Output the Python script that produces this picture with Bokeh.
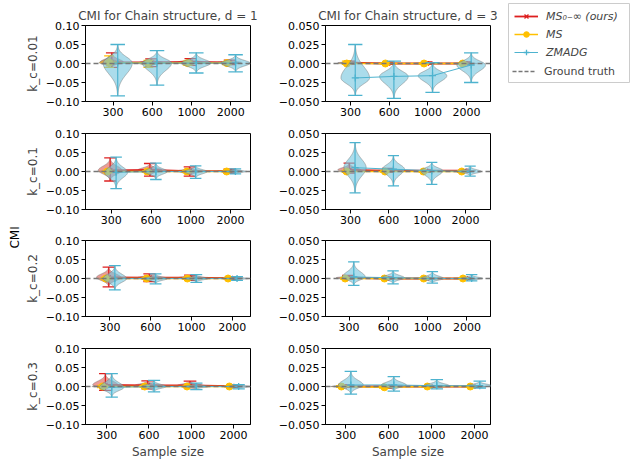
import numpy as np
from bokeh.plotting import figure
from bokeh.models import Range1d, FixedTicker, Span, Legend, LegendItem, ColumnDataSource, Label
from bokeh.layouts import row, column
from bokeh.embed import file_html
from bokeh.resources import INLINE

# ---------------- data ----------------
sample_sizes = ["300", "600", "1000", "2000"]
kc_labels = ["0.01", "0.1", "0.2", "0.3"]
d_labels = ["1", "3"]
method_names = ["MS₀₋∞ (ours)", "MS", "ZMADG"]
ground_truth_name = "Ground truth"
ground_truth_cmi = 0.0

y_ticks_d1 = [-0.10, -0.05, 0.0, 0.05, 0.10]
y_tick_labels_d1 = ["−0.10", "−0.05", "0.00", "0.05", "0.10"]
y_ticks_d3 = [-0.050, -0.025, 0.0, 0.025, 0.050]
y_tick_labels_d3 = ["−0.050", "−0.025", "0.000", "0.025", "0.050"]

# d=1, k_c=0.01
d1_k001_ours_mean = [0.003, 0.003, 0.004, 0.003]
d1_k001_ours_min = [-0.010, -0.008, -0.005, -0.003]
d1_k001_ours_max = [0.028, 0.012, 0.013, 0.009]
d1_k001_ms_mean = [0.002, 0.001, 0.001, 0.001]
d1_k001_ms_min = [-0.010, -0.010, -0.004, -0.003]
d1_k001_ms_max = [0.020, 0.008, 0.006, 0.004]
d1_k001_zmadg_mean = [0.001, 0.001, 0.001, 0.001]
d1_k001_zmadg_min = [-0.085, -0.057, -0.025, -0.022]
d1_k001_zmadg_max = [0.050, 0.034, 0.028, 0.023]

# d=3, k_c=0.01
d3_k001_ours_mean = [0.001, 0.000, 0.000, 0.000]
d3_k001_ours_min = [-0.001, -0.001, -0.001, -0.001]
d3_k001_ours_max = [0.003, 0.002, 0.002, 0.002]
d3_k001_ms_mean = [0.000, 0.000, 0.000, 0.000]
d3_k001_ms_min = [-0.001, -0.001, -0.001, -0.001]
d3_k001_ms_max = [0.003, 0.001, 0.001, 0.001]
d3_k001_zmadg_mean = [-0.019, -0.017, -0.016, -0.002]
d3_k001_zmadg_min = [-0.042, -0.046, -0.038, -0.025]
d3_k001_zmadg_max = [0.025, 0.003, 0.001, 0.014]

# d=1, k_c=0.1
d1_k01_ours_mean = [0.003, 0.004, 0.001, 0.001]
d1_k01_ours_min = [-0.025, -0.012, -0.012, -0.004]
d1_k01_ours_max = [0.036, 0.021, 0.012, 0.006]
d1_k01_ms_mean = [0.000, 0.000, 0.000, 0.000]
d1_k01_ms_min = [-0.003, -0.002, -0.002, -0.001]
d1_k01_ms_max = [0.003, 0.002, 0.002, 0.001]
d1_k01_zmadg_mean = [-0.002, 0.000, 0.000, 0.000]
d1_k01_zmadg_min = [-0.045, -0.021, -0.018, -0.006]
d1_k01_zmadg_max = [0.038, 0.022, 0.015, 0.007]

# d=3, k_c=0.1
d3_k01_ours_mean = [0.002, 0.001, 0.001, 0.001]
d3_k01_ours_min = [-0.002, -0.001, -0.001, -0.001]
d3_k01_ours_max = [0.011, 0.004, 0.002, 0.002]
d3_k01_ms_mean = [0.000, 0.000, 0.000, 0.000]
d3_k01_ms_min = [-0.001, -0.001, -0.001, -0.001]
d3_k01_ms_max = [0.001, 0.001, 0.001, 0.001]
d3_k01_zmadg_mean = [0.005, 0.003, 0.001, 0.000]
d3_k01_zmadg_min = [-0.028, -0.019, -0.017, -0.006]
d3_k01_zmadg_max = [0.038, 0.021, 0.012, 0.007]

# d=1, k_c=0.2
d1_k02_ours_mean = [0.003, 0.002, 0.002, 0.001]
d1_k02_ours_min = [-0.022, -0.008, -0.005, -0.003]
d1_k02_ours_max = [0.030, 0.012, 0.009, 0.004]
d1_k02_ms_mean = [0.000, 0.000, 0.000, 0.000]
d1_k02_ms_min = [-0.003, -0.002, -0.002, -0.001]
d1_k02_ms_max = [0.003, 0.002, 0.002, 0.001]
d1_k02_zmadg_mean = [0.000, 0.000, 0.000, 0.000]
d1_k02_zmadg_min = [-0.030, -0.014, -0.010, -0.005]
d1_k02_zmadg_max = [0.034, 0.012, 0.010, 0.005]

# d=3, k_c=0.2
d3_k02_ours_mean = [0.001, 0.000, 0.000, 0.000]
d3_k02_ours_min = [-0.001, -0.001, -0.001, -0.001]
d3_k02_ours_max = [0.004, 0.002, 0.001, 0.001]
d3_k02_ms_mean = [0.000, 0.000, 0.000, 0.000]
d3_k02_ms_min = [-0.001, -0.001, -0.001, -0.001]
d3_k02_ms_max = [0.001, 0.001, 0.001, 0.001]
d3_k02_zmadg_mean = [0.002, 0.001, 0.000, 0.000]
d3_k02_zmadg_min = [-0.009, -0.007, -0.006, -0.003]
d3_k02_zmadg_max = [0.022, 0.010, 0.009, 0.005]

# d=1, k_c=0.3
d1_k03_ours_mean = [0.004, 0.003, 0.003, 0.001]
d1_k03_ours_min = [-0.010, -0.006, -0.003, -0.002]
d1_k03_ours_max = [0.034, 0.015, 0.014, 0.004]
d1_k03_ms_mean = [0.000, 0.000, 0.000, 0.000]
d1_k03_ms_min = [-0.003, -0.002, -0.001, -0.001]
d1_k03_ms_max = [0.003, 0.002, 0.001, 0.001]
d1_k03_zmadg_mean = [-0.002, 0.000, 0.000, 0.000]
d1_k03_zmadg_min = [-0.028, -0.014, -0.008, -0.006]
d1_k03_zmadg_max = [0.034, 0.016, 0.009, 0.005]

# d=3, k_c=0.3
d3_k03_ours_mean = [0.000, 0.000, 0.000, 0.000]
d3_k03_ours_min = [-0.001, -0.002, -0.001, -0.001]
d3_k03_ours_max = [0.002, 0.001, 0.001, 0.001]
d3_k03_ms_mean = [0.000, -0.001, 0.000, 0.000]
d3_k03_ms_min = [-0.001, -0.002, -0.001, -0.001]
d3_k03_ms_max = [0.001, 0.000, 0.001, 0.001]
d3_k03_zmadg_mean = [0.002, 0.002, 0.001, 0.001]
d3_k03_zmadg_min = [-0.010, -0.006, -0.003, -0.002]
d3_k03_zmadg_max = [0.020, 0.013, 0.009, 0.007]


def stats(mean, lo, hi):
    return dict(mean=mean, lo=lo, hi=hi)


panel_data = {
    (0, 0): dict(ours=stats(d1_k001_ours_mean, d1_k001_ours_min, d1_k001_ours_max),
                 ms=stats(d1_k001_ms_mean, d1_k001_ms_min, d1_k001_ms_max),
                 zmadg=stats(d1_k001_zmadg_mean, d1_k001_zmadg_min, d1_k001_zmadg_max)),
    (0, 1): dict(ours=stats(d3_k001_ours_mean, d3_k001_ours_min, d3_k001_ours_max),
                 ms=stats(d3_k001_ms_mean, d3_k001_ms_min, d3_k001_ms_max),
                 zmadg=stats(d3_k001_zmadg_mean, d3_k001_zmadg_min, d3_k001_zmadg_max)),
    (1, 0): dict(ours=stats(d1_k01_ours_mean, d1_k01_ours_min, d1_k01_ours_max),
                 ms=stats(d1_k01_ms_mean, d1_k01_ms_min, d1_k01_ms_max),
                 zmadg=stats(d1_k01_zmadg_mean, d1_k01_zmadg_min, d1_k01_zmadg_max)),
    (1, 1): dict(ours=stats(d3_k01_ours_mean, d3_k01_ours_min, d3_k01_ours_max),
                 ms=stats(d3_k01_ms_mean, d3_k01_ms_min, d3_k01_ms_max),
                 zmadg=stats(d3_k01_zmadg_mean, d3_k01_zmadg_min, d3_k01_zmadg_max)),
    (2, 0): dict(ours=stats(d1_k02_ours_mean, d1_k02_ours_min, d1_k02_ours_max),
                 ms=stats(d1_k02_ms_mean, d1_k02_ms_min, d1_k02_ms_max),
                 zmadg=stats(d1_k02_zmadg_mean, d1_k02_zmadg_min, d1_k02_zmadg_max)),
    (2, 1): dict(ours=stats(d3_k02_ours_mean, d3_k02_ours_min, d3_k02_ours_max),
                 ms=stats(d3_k02_ms_mean, d3_k02_ms_min, d3_k02_ms_max),
                 zmadg=stats(d3_k02_zmadg_mean, d3_k02_zmadg_min, d3_k02_zmadg_max)),
    (3, 0): dict(ours=stats(d1_k03_ours_mean, d1_k03_ours_min, d1_k03_ours_max),
                 ms=stats(d1_k03_ms_mean, d1_k03_ms_min, d1_k03_ms_max),
                 zmadg=stats(d1_k03_zmadg_mean, d1_k03_zmadg_min, d1_k03_zmadg_max)),
    (3, 1): dict(ours=stats(d3_k03_ours_mean, d3_k03_ours_min, d3_k03_ours_max),
                 ms=stats(d3_k03_ms_mean, d3_k03_ms_min, d3_k03_ms_max),
                 zmadg=stats(d3_k03_zmadg_mean, d3_k03_zmadg_min, d3_k03_zmadg_max)),
}

# ---------------- styles / layout ----------------
FONT = "DejaVu Sans"
method_keys = ["ours", "ms", "zmadg"]
method_style = {
    "ours": dict(line="#DD1F1F", fill="#E05A4F", offset=-0.03, width=0.6,
                 marker="x", msize=6, lw=1.8),
    "ms": dict(line="#FFC000", fill="#F1B507", offset=-0.10, width=0.5,
               marker="circle", msize=7, lw=1.5),
    "zmadg": dict(line="#4DB3CF", fill="#73C5DE", offset=0.12, width=0.58,
                  marker="cross", msize=7, lw=1.0),
}
zmadg_width_row0 = 0.74

row_border_top = [25, 9, 8, 8]
row_border_bottom = [23, 23, 24, 37]
frame_h = 76
x_ranges = {
    0: [(0.3, 4.5), (0.35, 4.5), (0.4, 4.45), (0.5, 4.4)],
    1: [(0.35, 4.62), (0.35, 4.65), (0.4, 4.6), (0.53, 4.37)],
}


def violin_patch(pos, lo, hi, c, width):
    c = min(max(c, lo), hi)
    ys = np.linspace(lo, hi, 81)
    s_up = max(hi - c, 1e-9) / 3.0
    s_dn = max(c - lo, 1e-9) / 3.0
    s = np.where(ys >= c, s_up, s_dn)
    half = 0.5 * width * np.exp(-0.5 * ((ys - c) / s) ** 2)
    xs = np.concatenate([pos - half, (pos + half)[::-1]])
    yy = np.concatenate([ys, ys[::-1]])
    return xs.tolist(), yy.tolist()


def make_panel(r, c):
    data = panel_data[(r, c)]
    is_left = c == 0
    first = r == 0
    last = r == 3
    top = row_border_top[r]
    bottom = row_border_bottom[r]
    height = top + frame_h + bottom
    width = 236 if is_left else 244
    yt = y_ticks_d1 if is_left else y_ticks_d3
    yl = y_tick_labels_d1 if is_left else y_tick_labels_d3
    xr = x_ranges[c][r]
    p = figure(width=width, height=height,
               x_range=Range1d(*xr), y_range=Range1d(yt[0], yt[-1]),
               output_backend="svg", toolbar_location=None,
               min_border_left=60 if is_left else 67,
               min_border_right=8 if is_left else 12,
               min_border_top=top, min_border_bottom=bottom,
               title=(f"CMI for Chain structure, d = {d_labels[c]}" if first else None))
    p.background_fill_color = "white"
    p.border_fill_color = "white"
    p.outline_line_color = "black"
    p.outline_line_width = 1
    p.xgrid.visible = False
    p.ygrid.visible = False
    if first:
        p.title.align = "center"
        p.title.text_font = FONT
        p.title.text_font_size = "12px"
        p.title.text_font_style = "normal"
        p.title.standoff = 6

    idx = np.arange(1, len(sample_sizes) + 1, dtype=float)
    p.xaxis.ticker = FixedTicker(ticks=idx.tolist())
    p.xaxis.major_label_overrides = {float(i): s for i, s in zip(idx, sample_sizes)}
    p.yaxis.ticker = FixedTicker(ticks=yt)
    p.yaxis.major_label_overrides = {float(t): s for t, s in zip(yt, yl)}
    for ax in (p.xaxis[0], p.yaxis[0]):
        ax.major_label_text_font = FONT
        ax.major_label_text_font_size = "11px"
        ax.major_label_text_color = "black"
        ax.axis_line_color = "black"
        ax.major_tick_line_color = "black"
        ax.major_tick_out = 4
        ax.major_tick_in = 0
        ax.minor_tick_line_color = None
        ax.major_label_standoff = 2
        ax.axis_label_text_font = FONT
        ax.axis_label_text_font_size = "12px"
        ax.axis_label_text_font_style = "normal"
        ax.axis_label_standoff = 3
    if is_left:
        p.yaxis.axis_label = f"k_c={kc_labels[r]}"
    if last:
        p.xaxis.axis_label = "Sample size"

    for key in method_keys:
        st = method_style[key]
        sd = data[key]
        w = zmadg_width_row0 if (key == "zmadg" and r == 0) else st["width"]
        pos = idx + st["offset"]
        xs_list, ys_list = [], []
        for ps, lo, hi, m in zip(pos, sd["lo"], sd["hi"], sd["mean"]):
            xs, ys = violin_patch(ps, lo, hi, m, w)
            xs_list.append(xs)
            ys_list.append(ys)
        p.patches(xs=xs_list, ys=ys_list, fill_color=st["fill"], fill_alpha=0.6,
                  line_color="#777777", line_alpha=0.6, line_width=0.8)
        seg = ColumnDataSource(dict(x=pos, lo=sd["lo"], hi=sd["hi"],
                                    xl=pos - w / 4, xr=pos + w / 4))
        p.segment(x0="x", y0="lo", x1="x", y1="hi", source=seg,
                  line_color=st["line"], line_width=1.2)
        p.segment(x0="xl", y0="hi", x1="xr", y1="hi", source=seg,
                  line_color=st["line"], line_width=1.3)
        p.segment(x0="xl", y0="lo", x1="xr", y1="lo", source=seg,
                  line_color=st["line"], line_width=1.3)
        msrc = ColumnDataSource(dict(x=pos, y=sd["mean"]))
        p.line("x", "y", source=msrc, line_color=st["line"], line_width=st["lw"])
        if st["marker"] == "circle":
            p.scatter("x", "y", source=msrc, marker="circle", size=st["msize"],
                      fill_color=st["line"], line_color=st["line"])
        else:
            p.scatter("x", "y", source=msrc, marker=st["marker"], size=st["msize"],
                      line_color=st["line"], line_width=1.3)

    p.add_layout(Span(location=ground_truth_cmi, dimension="width",
                      line_color="#777777", line_dash="5 3", line_width=1.5))
    return p


panels = [[make_panel(r, c) for c in range(2)] for r in range(4)]
total_h = sum(row_border_top) + sum(row_border_bottom) + 4 * frame_h

# "CMI" shared label strip
strip = figure(width=22, height=total_h, x_range=Range1d(0, 1), y_range=Range1d(0, 1),
               x_axis_type=None, y_axis_type=None, toolbar_location=None,
               output_backend="svg", min_border_left=0, min_border_right=0,
               min_border_top=0, min_border_bottom=0, outline_line_color=None)
strip.grid.visible = False
strip.add_layout(Label(x=0.68, y=0.486, text="CMI", angle=np.pi / 2,
                       text_align="center", text_baseline="middle",
                       text_font=FONT, text_font_size="12px", text_color="black"))

# legend figure
lf = figure(width=128, height=84, x_range=Range1d(0, 1), y_range=Range1d(0, 1),
            x_axis_type=None, y_axis_type=None, toolbar_location=None,
            output_backend="svg", min_border_left=6, min_border_right=0,
            min_border_top=3, min_border_bottom=2,
            outline_line_color="#cccccc", outline_line_width=1)
lf.grid.visible = False
nan_src = ColumnDataSource(dict(x=[np.nan], y=[np.nan]))
items = []
for key, name in zip(method_keys, method_names):
    st = method_style[key]
    r1 = lf.line("x", "y", source=nan_src, line_color=st["line"], line_width=st["lw"])
    if st["marker"] == "circle":
        r2 = lf.scatter("x", "y", source=nan_src, marker="circle", size=st["msize"],
                        fill_color=st["line"], line_color=st["line"])
    else:
        r2 = lf.scatter("x", "y", source=nan_src, marker=st["marker"], size=st["msize"],
                        line_color=st["line"], line_width=1.3)
    items.append(LegendItem(label=name, renderers=[r1, r2]))
rg = lf.line("x", "y", source=nan_src, line_color="#777777", line_dash="4 2", line_width=1.5)


def style_legend(lg, italic):
    lg.label_text_font = FONT
    lg.label_text_font_size = "11px"
    lg.label_text_font_style = "italic" if italic else "normal"
    lg.glyph_width = 24
    lg.glyph_height = 14
    lg.label_height = 14
    lg.label_standoff = 8
    lg.spacing = 4
    lg.margin = 0
    lg.border_line_alpha = 0
    lg.background_fill_alpha = 0


leg1 = Legend(items=items, location="top_left", padding=6)
style_legend(leg1, True)
leg2 = Legend(items=[LegendItem(label=ground_truth_name, renderers=[rg])],
              location="bottom_left", padding=4)
style_legend(leg2, False)
lf.add_layout(leg1, "center")
lf.add_layout(leg2, "center")

layout = row(strip,
             column(*[panels[r][0] for r in range(4)]),
             column(*[panels[r][1] for r in range(4)]),
             column(lf))

open("out.html", "w").write(file_html(layout, INLINE, title="CMI chain structure"))
